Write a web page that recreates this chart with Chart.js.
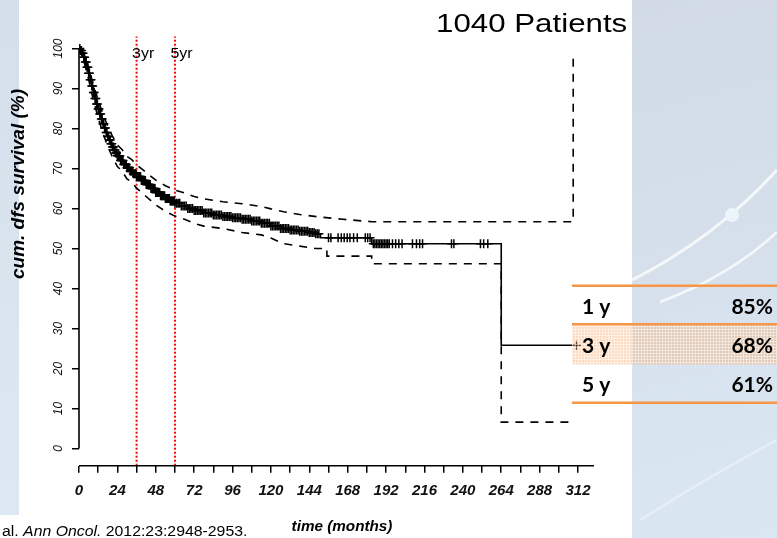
<!DOCTYPE html>
<html>
<head>
<meta charset="utf-8">
<title>DFS survival</title>
<script src="https://cdn.jsdelivr.net/npm/chart.js@4.4.1/dist/chart.umd.min.js"></script>
<style>
  html, body { margin: 0; padding: 0; background: #fff; }
  #wrap { width: 777px; height: 538px; position: relative; }
</style>
</head>
<body>
<div id="wrap"><canvas id="kmChart" width="777" height="538"></canvas></div>
<script>
// ---- data ----
const chartTitle = '1040 Patients';
const xTitle = 'time (months)';
const yTitle = 'cum. dfs survival (%)';
const citation = ['al. ', 'Ann Oncol.', ' 2012:23:2948-2953.'];

const xTicks = [0, 12, 24, 36, 48, 60, 72, 84, 96, 108, 120, 132, 144, 156, 168, 180, 192, 204, 216, 228, 240, 252, 264, 276, 288, 300, 312];
const yTicks = [0, 10, 20, 30, 40, 50, 60, 70, 80, 90, 100];

// Kaplan-Meier estimate (month of step, survival after step)
const kmTime = [0, 1, 2, 3, 4, 5, 6, 7, 8, 9, 10, 11, 12, 13, 14, 15, 16, 17, 18, 19, 20, 21, 22, 23, 24,
  26, 28, 30, 32, 34, 36, 39, 42, 45, 48, 51, 54, 57, 60,
  64, 68, 72, 78, 84, 90, 96, 102, 108, 114, 120, 126, 132, 138, 144, 148, 151, 183, 264, 311];
const kmSurv = [100, 99.5, 98.8, 97.8, 96.6, 95.3, 93.8, 92.2, 90.6, 89.0, 87.5, 86.1, 84.9, 83.6, 82.4, 81.2, 80.1, 79.0, 78.0, 77.1, 76.2, 75.4, 74.6, 73.9, 73.2,
  72.0, 71.0, 70.2, 69.4, 68.7, 68.0, 67.0, 66.0, 65.0, 64.0, 63.2, 62.5, 61.9, 61.3,
  60.6, 60.0, 59.5, 58.9, 58.4, 58.0, 57.7, 57.3, 56.9, 56.3, 55.6, 55.0, 54.6, 54.3, 54.0, 53.7, 52.7, 51.2, 25.8, 25.8];

// confidence band (repeated month = vertical step)
const upperTime = [0, 3, 6, 9, 12, 15, 18, 21, 24, 27, 30, 33, 36, 42, 48, 54, 60, 66, 72, 78,
  90, 102, 114, 120, 128, 138, 150, 165, 183, 309, 309];
const upperSurv = [100, 98.7, 95.3, 90.9, 87.1, 83.6, 80.5, 78.0, 75.9, 74.7, 73.0, 72.2, 70.9, 69.0, 67.1, 65.7, 64.6, 63.9, 63.0, 62.4,
  61.7, 61.2, 60.5, 59.9, 59.2, 58.5, 57.9, 57.3, 56.7, 56.7, 97.9];
const lowerTime = [0, 3, 6, 9, 12, 15, 18, 21, 24, 27, 30, 33, 36, 42, 48, 54, 60, 66, 72, 78,
  90, 102, 114, 120, 128, 138, 148, 155, 155, 183, 183, 264, 264, 306];
const lowerSurv = [100, 96.9, 92.3, 87.1, 82.7, 78.8, 75.5, 72.8, 70.5, 69.3, 67.4, 66.6, 65.1, 63.0, 60.9, 59.3, 58.1, 57.3, 56.3, 55.6,
  55.0, 54.0, 53.4, 52.6, 51.2, 50.6, 50.0, 50.0, 48.1, 48.1, 46.2, 46.2, 6.6, 6.6];

// censored patients (+ marks)
const censorTime = [
  0.5, 1, 1.5, 2, 2.5, 3, 3.5, 4, 4.5, 5, 5.5, 6, 6.5, 7, 7.5, 8, 8.5, 9, 9.5, 10, 10.5, 11, 11.5, 12, 12.5,
  13, 13.5, 14, 14.5, 15, 15.5, 16, 16.5, 17, 17.5, 18, 18.5, 19, 19.5, 20, 20.5, 21, 21.5, 22, 22.5, 23, 23.5, 24, 24.5, 25, 25.5,
  26, 26.5, 27, 27.5, 28, 28.5, 29, 29.5, 30, 30.5, 31, 31.5, 32, 32.5, 33, 33.5, 34, 34.5, 35, 35.5,
  36, 36.5, 37, 37.5, 38, 38.5, 39, 39.5, 40, 40.5, 41, 41.5, 42, 42.5, 43, 43.5, 44, 44.5, 45, 45.5, 46, 46.5, 47, 47.5,
  48, 48.5, 49, 49.5, 50, 50.5, 51, 51.5, 52, 52.5, 53, 53.5, 54, 54.5, 55, 55.5, 56, 56.5, 57, 57.5, 58, 58.5, 59, 59.5, 60,
  61, 62, 63, 64, 65, 66, 67, 68, 69, 70, 71, 72, 73, 74, 75, 76, 77,
  78, 79, 80, 81, 82, 83, 84, 85, 86, 87, 88, 89,
  90, 91, 92, 93, 94, 95, 96, 97, 98, 99, 100, 101,
  102, 103, 104, 105, 106, 107, 108, 109, 110, 111, 112, 113,
  114, 115, 116, 117, 118, 119, 120, 121, 122, 123, 124, 125,
  126, 127, 128, 129, 130, 131, 132, 133, 134, 135, 136, 137,
  138, 139, 140, 141, 142, 143, 144, 145, 146, 147, 148, 149, 150,
  156, 157.5, 162, 164, 165.8, 167.7, 169.4, 171.7, 174, 179, 180.5, 182,
  184, 185, 186, 187, 188, 189, 190, 191, 192, 193, 194, 196, 198, 200, 202,
  208.5, 211, 213, 214.8, 232.9, 234.4, 251, 253, 255.6, 311];
const censorSurv = [
  100, 99.5, 99.5, 98.8, 98.8, 97.8, 97.8, 96.6, 96.6, 95.3, 95.3, 93.8, 93.8, 92.2, 92.2, 90.6, 90.6, 89.0, 89.0, 87.5, 87.5, 86.1, 86.1, 84.9, 84.9,
  83.6, 83.6, 82.4, 82.4, 81.2, 81.2, 80.1, 80.1, 79.0, 79.0, 78.0, 78.0, 77.1, 77.1, 76.2, 76.2, 75.4, 75.4, 74.6, 74.6, 73.9, 73.9, 73.2, 73.2, 73.2, 73.2,
  72.0, 72.0, 72.0, 72.0, 71.0, 71.0, 71.0, 71.0, 70.2, 70.2, 70.2, 70.2, 69.4, 69.4, 69.4, 69.4, 68.7, 68.7, 68.7, 68.7,
  68.0, 68.0, 68.0, 68.0, 68.0, 68.0, 67.0, 67.0, 67.0, 67.0, 67.0, 67.0, 66.0, 66.0, 66.0, 66.0, 66.0, 66.0, 65.0, 65.0, 65.0, 65.0, 65.0, 65.0,
  64.0, 64.0, 64.0, 64.0, 64.0, 64.0, 63.2, 63.2, 63.2, 63.2, 63.2, 63.2, 62.5, 62.5, 62.5, 62.5, 62.5, 62.5, 61.9, 61.9, 61.9, 61.9, 61.9, 61.9, 61.3,
  61.3, 61.3, 61.3, 60.6, 60.6, 60.6, 60.6, 60.0, 60.0, 60.0, 60.0, 59.5, 59.5, 59.5, 59.5, 59.5, 59.5,
  58.9, 58.9, 58.9, 58.9, 58.9, 58.9, 58.4, 58.4, 58.4, 58.4, 58.4, 58.4,
  58.0, 58.0, 58.0, 58.0, 58.0, 58.0, 57.7, 57.7, 57.7, 57.7, 57.7, 57.7,
  57.3, 57.3, 57.3, 57.3, 57.3, 57.3, 56.9, 56.9, 56.9, 56.9, 56.9, 56.9,
  56.3, 56.3, 56.3, 56.3, 56.3, 56.3, 55.6, 55.6, 55.6, 55.6, 55.6, 55.6,
  55.0, 55.0, 55.0, 55.0, 55.0, 55.0, 54.6, 54.6, 54.6, 54.6, 54.6, 54.6,
  54.3, 54.3, 54.3, 54.3, 54.3, 54.3, 54.0, 54.0, 54.0, 54.0, 53.7, 53.7, 53.7,
  52.7, 52.7, 52.7, 52.7, 52.7, 52.7, 52.7, 52.7, 52.7, 52.7, 52.7, 52.7,
  51.2, 51.2, 51.2, 51.2, 51.2, 51.2, 51.2, 51.2, 51.2, 51.2, 51.2, 51.2, 51.2, 51.2, 51.2,
  51.2, 51.2, 51.2, 51.2, 51.2, 51.2, 51.2, 51.2, 51.2, 25.8];

// 3 and 5 year markers
const refTimes = [36, 60];
const refLabels = ['3yr', '5yr'];
const refTop = 103;

// summary table
const tableYears = ['1 y', '3 y', '5 y'];
const tableRates = ['85%', '68%', '61%'];

const Y_MIN = -4.3, Y_MAX = 104, X_MAX = 322;
const SANS = '"Liberation Sans", Arial, sans-serif';

function pts(xs, ys) {
  return xs.map((x, i) => ({ x: x, y: ys[i] }));
}

// draws text slightly wider than the font, like the stretched slide image
function wideText(ctx, text, x, y, font, align, sx) {
  ctx.save();
  ctx.font = font;
  ctx.translate(x, y);
  ctx.scale(sx, 1);
  ctx.textAlign = align;
  ctx.fillText(text, 0, 0);
  ctx.restore();
}

const slideBackground = {
  id: 'slideBackground',
  beforeDraw(chart) {
    const ctx = chart.ctx;
    ctx.save();
    ctx.fillStyle = '#fff';
    ctx.fillRect(0, 0, chart.width, chart.height);
    // left strip of the slide
    let g = ctx.createLinearGradient(0, 0, 0, 520);
    g.addColorStop(0, '#d4dfeb');
    g.addColorStop(1, '#dde8f2');
    ctx.fillStyle = g;
    ctx.fillRect(0, 0, 19, 515);
    // right panel
    g = ctx.createLinearGradient(632, 0, 777, 538);
    g.addColorStop(0, '#d1dae5');
    g.addColorStop(1, '#dae7f3');
    ctx.fillStyle = g;
    ctx.fillRect(632, 0, 145, 538);
    ctx.strokeStyle = 'rgba(255,255,255,0.75)';
    ctx.lineWidth = 3;
    ctx.beginPath(); ctx.moveTo(632, 280); ctx.quadraticCurveTo(715, 238, 777, 170); ctx.stroke();
    ctx.lineWidth = 2.5;
    ctx.beginPath(); ctx.moveTo(660, 302); ctx.quadraticCurveTo(730, 276, 777, 232); ctx.stroke();
    ctx.strokeStyle = 'rgba(255,255,255,0.35)';
    ctx.beginPath(); ctx.moveTo(640, 520); ctx.quadraticCurveTo(720, 470, 777, 440); ctx.stroke();
    ctx.fillStyle = '#edf5fc';
    ctx.beginPath(); ctx.arc(732, 215, 7, 0, Math.PI * 2); ctx.fill();
    ctx.restore();
  }
};

const axisLines = {
  id: 'axisLines',
  afterDatasetsDraw(chart) {
    const ctx = chart.ctx, a = chart.chartArea, ys = chart.scales.y;
    ctx.save();
    ctx.strokeStyle = '#000';
    ctx.lineWidth = 1.6;
    ctx.beginPath();
    ctx.moveTo(a.left, ys.getPixelForValue(yTicks[0]));
    ctx.lineTo(a.left, ys.getPixelForValue(yTicks[yTicks.length - 1]));
    ctx.moveTo(a.left, a.bottom);
    ctx.lineTo(a.right, a.bottom);
    ctx.stroke();
    ctx.restore();
  }
};

const annotations = {
  id: 'annotations',
  afterDraw(chart) {
    const ctx = chart.ctx, xs = chart.scales.x;
    ctx.save();
    ctx.fillStyle = '#000';
    ctx.textBaseline = 'alphabetic';

    wideText(ctx, chartTitle, 436, 32.3, '26.5px ' + SANS, 'left', 1.18);

    refTimes.forEach((t, i) => {
      wideText(ctx, refLabels[i], xs.getPixelForValue(t) - 4.5, 57.5, '14px ' + SANS, 'left', 1.14);
    });

    wideText(ctx, xTitle, 342, 531, 'italic bold 14px ' + SANS, 'center', 1.09);

    ctx.save();
    ctx.translate(24, 184);
    ctx.rotate(-Math.PI / 2);
    ctx.font = 'italic bold 19px ' + SANS;
    ctx.textAlign = 'center';
    ctx.fillText(yTitle, 0, 0);
    ctx.restore();

    // citation, middle part italic
    let cx = 2;
    citation.forEach((part, i) => {
      const font = (i === 1 ? 'italic ' : '') + '14px ' + SANS;
      ctx.font = font;
      const w = ctx.measureText(part).width * 1.13;
      wideText(ctx, part, cx, 536, font, 'left', 1.13);
      cx += w;
    });

    // summary table
    const tx0 = 572, tx1 = 777;
    const pc = document.createElement('canvas');
    pc.width = 3; pc.height = 3;
    const p = pc.getContext('2d');
    p.fillStyle = 'rgba(248,165,100,0.38)';
    p.fillRect(0, 0, 3, 3);
    p.fillStyle = 'rgba(255,255,255,0.45)';
    p.fillRect(2, 0, 1, 3);
    p.fillRect(0, 2, 3, 1);
    ctx.fillStyle = ctx.createPattern(pc, 'repeat');
    ctx.fillRect(tx0, 325.5, tx1 - tx0, 39);

    ctx.strokeStyle = '#f79646';
    ctx.lineWidth = 2.5;
    [285.7, 324.3, 402.7].forEach(y => {
      ctx.beginPath(); ctx.moveTo(tx0, y); ctx.lineTo(tx1, y); ctx.stroke();
    });

    const baselines = [314, 353, 391.7];
    ctx.fillStyle = '#000';
    ctx.font = 'bold 21px Lato, "Open Sans", sans-serif';
    tableYears.forEach((yr, i) => {
      ctx.textAlign = 'left';
      ctx.fillText(yr, 582, baselines[i]);
      ctx.textAlign = 'right';
      ctx.fillText(tableRates[i], 773, baselines[i]);
    });
    ctx.restore();
  }
};

const lineStyle = { borderColor: '#000', borderWidth: 1.6, pointRadius: 0, fill: false };

const datasets = [
  {
    label: 'censored',
    data: pts(censorTime, censorSurv),
    showLine: false,
    pointStyle: 'cross',
    pointRadius: 4.5,
    pointBorderWidth: 1.5,
    pointBorderColor: '#000',
    pointBackgroundColor: '#000'
  },
  Object.assign({ label: 'KM', data: pts(kmTime, kmSurv), stepped: true }, lineStyle),
  Object.assign({ label: 'upper', data: pts(upperTime, upperSurv), borderDash: [8, 7] }, lineStyle),
  Object.assign({ label: 'lower', data: pts(lowerTime, lowerSurv), borderDash: [8, 7] }, lineStyle)
];
refTimes.forEach(t => {
  datasets.push({
    label: 'ref' + t,
    data: [{ x: t, y: Y_MIN }, { x: t, y: refTop }],
    borderColor: '#ff0000',
    borderWidth: 2,
    borderDash: [2, 2],
    pointRadius: 0,
    fill: false
  });
});

const tickGrid = { display: true, drawOnChartArea: false, drawTicks: true, tickLength: 7, color: '#000', lineWidth: 1.5 };

new Chart(document.getElementById('kmChart').getContext('2d'), {
  type: 'line',
  data: { datasets: datasets },
  options: {
    responsive: false,
    animation: false,
    events: [],
    layout: { padding: { left: 0, top: 32.5, right: 183, bottom: 0 } },
    plugins: { legend: { display: false }, tooltip: { enabled: false } },
    scales: {
      x: {
        type: 'linear',
        min: 0,
        max: X_MAX,
        afterBuildTicks: s => { s.ticks = xTicks.map(v => ({ value: v })); },
        afterFit: s => { s.height = 72.3; },
        grid: tickGrid,
        border: { display: false },
        ticks: {
          autoSkip: false,
          maxRotation: 0,
          padding: 9,
          color: '#111',
          font: { family: SANS, size: 15, style: 'italic', weight: 'bold' },
          callback: v => (v % 24 === 0 ? String(v) : '')
        }
      },
      y: {
        type: 'linear',
        min: Y_MIN,
        max: Y_MAX,
        afterBuildTicks: s => { s.ticks = yTicks.map(v => ({ value: v })); },
        afterFit: s => { s.width = 79; },
        grid: tickGrid,
        border: { display: false },
        ticks: {
          autoSkip: false,
          minRotation: 90,
          maxRotation: 90,
          crossAlign: 'center',
          padding: 3,
          color: '#111',
          font: { family: SANS, size: 12, style: 'italic' }
        }
      }
    }
  },
  plugins: [slideBackground, axisLines, annotations]
});
</script>
</body>
</html>
